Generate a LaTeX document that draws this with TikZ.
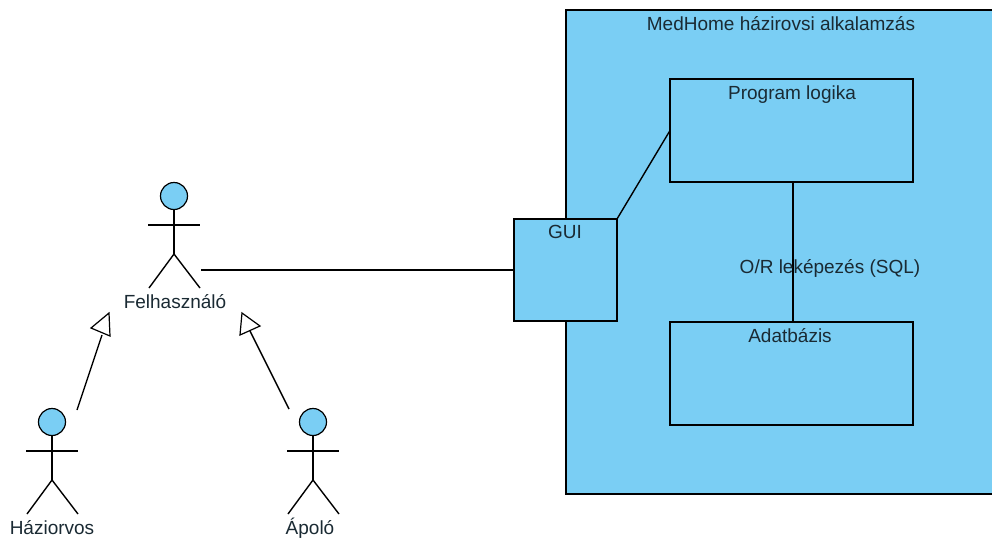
\documentclass[tikz,border=0pt]{standalone}
\usepackage{fontspec}
\setmainfont{Liberation Sans}
\definecolor{fillblue}{HTML}{7ACEF4}
\definecolor{txt}{HTML}{1A2A33}
\tikzset{
  x=1pt,y=-1pt,
  boxn/.style={draw=black,line width=1.4pt,fill=fillblue,rectangle,inner sep=0pt,outer sep=0pt},
  head/.style={draw=black,line width=1.2pt,fill=fillblue,circle,inner sep=0pt,outer sep=0pt,minimum size=27pt},
  lbl/.style={font=\fontsize{19}{22}\selectfont,text=txt,inner sep=0pt,anchor=base},
  conn/.style={draw=black,line width=1.4pt},
  tri/.style={draw=black,line width=1.2pt,fill=white,line join=miter}
}
\newcommand{\stick}[4]{% name, x, head y, label
  \node[head] (#1h) at (#2,#3) {};
  \coordinate (#1n) at (#2,#3+29);
  \coordinate (#1l) at (#2-26,#3+29);
  \coordinate (#1r) at (#2+26,#3+29);
  \coordinate (#1p) at (#2,#3+58);
  \coordinate (#1a) at (#2-25,#3+92);
  \coordinate (#1b) at (#2+26,#3+92);
  \draw[conn] (#1h.south) -- (#1p);
  \draw[conn] (#1l) -- (#1r);
  \draw[conn] (#1a) -- (#1p) -- (#1b);
  \node[lbl] (#1t) at (#2+#4,#3+112) {\csname lab#1\endcsname};
}
\newcommand{\labfel}{Felhasználó}
\newcommand{\labhaz}{Háziorvos}
\newcommand{\labapo}{Ápoló}
\begin{document}
\begin{tikzpicture}
\useasboundingbox (0,0) rectangle (992,542);
\fill[white] (0,0) rectangle (992,542);
\node[boxn,minimum width=427pt,minimum height=484pt] (app) at (779.5,252) {};
\node[lbl] (appt) at (781,30) {MedHome házirovsi alkalamzás};
\node[boxn,minimum width=243pt,minimum height=103pt] (prog) at (791.5,130.5) {};
\node[lbl] (progt) at (792,99) {Program logika};
\node[boxn,minimum width=243pt,minimum height=103pt] (adat) at (791.5,373.5) {};
\node[lbl] (adatt) at (790,342) {Adatbázis};
\node[boxn,minimum width=103pt,minimum height=102pt] (gui) at (565.5,270) {};
\node[lbl] (guit) at (565,238) {GUI};
\draw[conn] (gui.north east) -- (prog.west);
\coordinate (midx) at (793,250);
\draw[conn] (prog.south -| midx) -- (adat.north -| midx);
\node[lbl] (orm) at (830,273) {O/R leképezés (SQL)};
\stick{fel}{174}{196}{1}
\stick{haz}{52}{422}{0}
\stick{apo}{313}{422}{-3}
\coordinate (felcon) at (201,270);
\draw[conn] (felcon) -- (felcon -| gui.west);
% generalisations
\coordinate (g1s) at (77,410); \coordinate (g1e) at (102,335);
\coordinate (g1t) at (109,313); \coordinate (g1a) at (91,328); \coordinate (g1b) at (110,336);
\draw[conn] (g1s) -- (g1e);
\draw[tri] (g1t) -- (g1a) -- (g1b) -- cycle;
\coordinate (g2s) at (289,409); \coordinate (g2e) at (250,331);
\coordinate (g2t) at (242,313); \coordinate (g2a) at (240,335); \coordinate (g2b) at (260,326);
\draw[conn] (g2s) -- (g2e);
\draw[tri] (g2t) -- (g2a) -- (g2b) -- cycle;
\end{tikzpicture}
\end{document}
